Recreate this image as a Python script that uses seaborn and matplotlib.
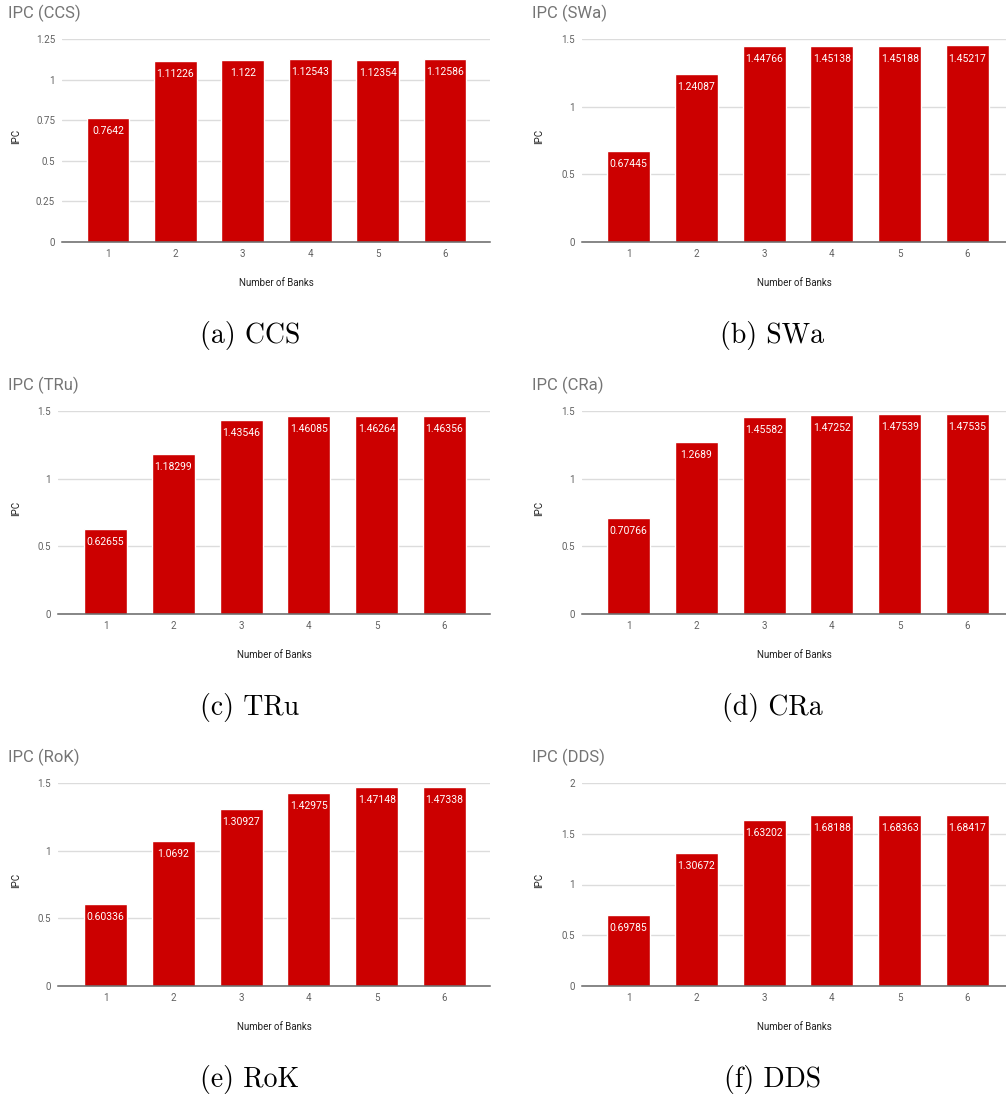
import matplotlib
matplotlib.use("Agg")
import matplotlib.pyplot as plt
import seaborn as sns
import pandas as pd
import numpy as np

sns.set_theme(style="white")
plt.rcParams['font.family'] = ['Roboto', 'DejaVu Sans']

banks = ["1", "2", "3", "4", "5", "6"]

ccs = [0.7642, 1.11226, 1.122, 1.12543, 1.12354, 1.12586]
swa = [0.67445, 1.24087, 1.44766, 1.45138, 1.45188, 1.45217]
tru = [0.62655, 1.18299, 1.43546, 1.46085, 1.46264, 1.46356]
cra = [0.70766, 1.2689, 1.45582, 1.47252, 1.47539, 1.47535]
rok = [0.60336, 1.0692, 1.30927, 1.42975, 1.47148, 1.47338]
dds = [0.69785, 1.30672, 1.63202, 1.68188, 1.68363, 1.68417]

names = ["CCS", "SWa", "TRu", "CRa", "RoK", "DDS"]
letters = ["a", "b", "c", "d", "e", "f"]
series = [ccs, swa, tru, cra, rok, dds]
yticks = [
    [0, 0.25, 0.5, 0.75, 1, 1.25],
    [0, 0.5, 1, 1.5],
    [0, 0.5, 1, 1.5],
    [0, 0.5, 1, 1.5],
    [0, 0.5, 1, 1.5],
    [0, 0.5, 1, 1.5, 2],
]
ytick_labels = [[f"{t:g}" for t in tk] for tk in yticks]

W, H = 1006, 1100
fig = plt.figure(figsize=(W / 100, H / 100), dpi=100)

RED = "#cc0000"
TITLE_C = "#757575"
TICK_C = "#616161"
GRID_C = "#dcdcdc"

# panel geometry in pixels: left, right, first bar centre, bar spacing
geo = {
    0: (62, 490, 108.0, 67.4),
    2: (58, 490, 105.5, 67.8),
    4: (58, 490, 105.5, 67.8),
    1: (582, 1006, 628.5, 67.8),
    3: (582, 1006, 628.5, 67.8),
    5: (582, 1006, 628.5, 67.8),
}

for i, (vals, name, letter) in enumerate(zip(series, names, letters)):
    row, col = divmod(i, 2)
    dy = row * 372
    top, bottom = 39 + dy, 242 + dy
    left, right, c1, sp = geo[i]
    ax = fig.add_axes([left / W, 1 - bottom / H, (right - left) / W, (bottom - top) / H])
    df = pd.DataFrame({"Number of Banks": banks, "IPC": vals})
    sns.barplot(data=df, x="Number of Banks", y="IPC", order=banks, color=RED,
                saturation=1, width=0.635, ax=ax, zorder=3)
    ax.set_xlim(-(c1 - left) / sp, 5 + (right - (c1 + 5 * sp)) / sp)
    ax.set_ylim(0, yticks[i][-1])
    ax.set_yticks(yticks[i])
    ax.set_yticklabels(ytick_labels[i])
    ax.yaxis.grid(True, color=GRID_C, linewidth=1, zorder=0)
    ax.set_axisbelow(True)
    for s in ["top", "right", "left"]:
        ax.spines[s].set_visible(False)
    ax.spines["bottom"].set_color("#666666")
    ax.spines["bottom"].set_linewidth(1.1)
    ax.spines["bottom"].set_zorder(4)
    ax.tick_params(axis="both", length=0, labelsize=7, colors=TICK_C, pad=5)
    ax.set_xlabel("Number of Banks", fontsize=7, color="#222222", labelpad=14)
    ylab_x = 21 if col == 0 else 544
    ax.set_ylabel("IPC", fontsize=7, color="#222222")
    ax.yaxis.set_label_coords((ylab_x - left) / (right - left), 0.52)
    for cont in ax.containers:
        ax.bar_label(cont, fmt="{:g}", padding=-13, color="white", fontsize=7.5)
    # panel title
    tx = 8 if col == 0 else 532
    fig.text(tx / W, 1 - (13 + dy) / H, f"IPC ({name})", fontsize=12, color=TITLE_C,
             ha="left", va="center")
    # caption
    cx = 250 if col == 0 else 772
    fig.text(cx / W, 1 - (336 + dy) / H, f"({letter}) {name}", fontsize=20,
             family="cmr10", color="black", ha="center", va="center")

fig.savefig("out.png", dpi=100, facecolor="white")
